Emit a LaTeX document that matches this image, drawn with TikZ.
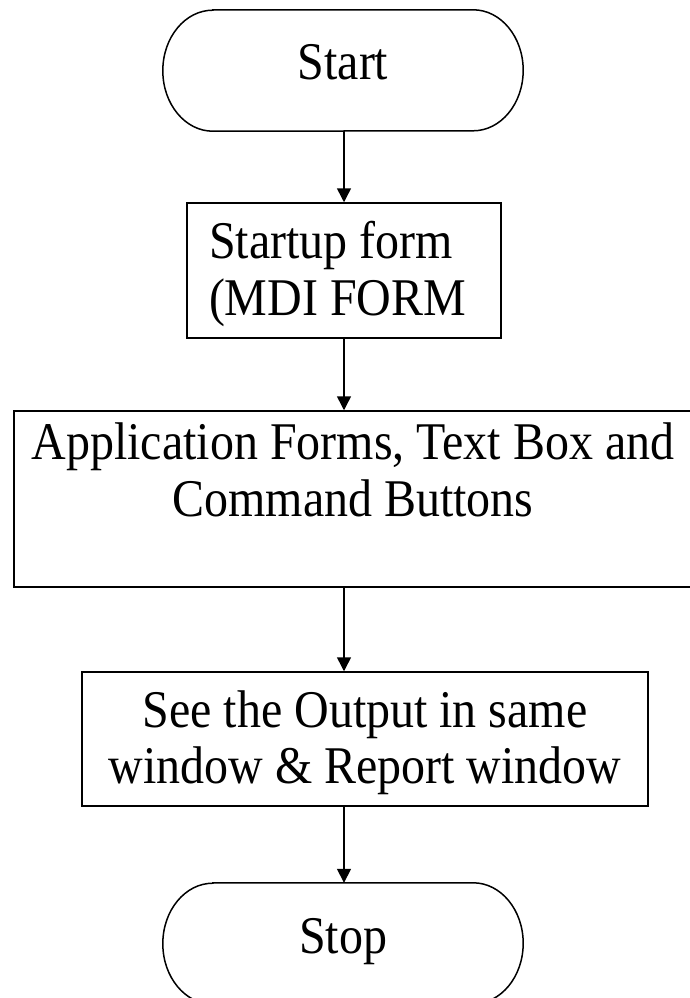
\documentclass[tikz,border=0pt]{standalone}
\usepackage{fontspec}
\setmainfont{Liberation Serif}[FakeStretch=0.905]
\usetikzlibrary{arrows.meta}
\newcommand\boxstrut{\rule[-11pt]{0pt}{55pt}}
\newcommand\termstrut{\rule[-18pt]{0pt}{55pt}}
\begin{document}
\begin{tikzpicture}[x=1pt,y=-1pt,
  every node/.style={font=\fontsize{53}{55}\selectfont, inner sep=0pt},
  procbox/.style={draw, line width=1.5pt, align=center},
  termbox/.style={draw=none, minimum width=360pt, minimum height=121pt},
  arr/.style={line width=1.5pt, -{Triangle[width=14pt,length=14pt]}},
  termline/.style={line width=1.5pt}
]
\useasboundingbox (0,0) rectangle (689,998);
% terminators
\node[termbox] (start) at (343,70.5) {\termstrut Start};
\node[termbox] (stop) at (343,943.5) {\termstrut Stop};
\foreach \n in {start,stop}{
  \draw[termline] ([xshift=50pt]\n.north west) -- ([xshift=-50pt]\n.north east)
    arc[start angle=90, end angle=-90, x radius=50pt, y radius=60.5pt]
    -- ([xshift=50pt]\n.south west)
    arc[start angle=270, end angle=90, x radius=50pt, y radius=60.5pt] -- cycle;
}
% process boxes
\node[procbox, align=flush left, text width=270pt, inner xsep=22pt, minimum height=135pt] (startup) at (344,270.5)
  {\boxstrut Startup form\\\boxstrut (MDI FORM};
\node[procbox, minimum width=678pt, minimum height=176pt] (app) at (353,499)
  {\boxstrut Application Forms, Text Box and\\\boxstrut Command Buttons\\\boxstrut};
\node[procbox, minimum width=566pt, minimum height=134pt] (out) at (365,739)
  {\boxstrut See the Output in same\\\boxstrut window \& Report window};
% connectors
\draw[arr] ([xshift=1pt]start.south) -- (startup.north);
\draw[arr] (startup.south) -- (startup.south |- app.north);
\draw[arr] (startup.south |- app.south) -- (startup.south |- out.north);
\draw[arr] (startup.south |- out.south) -- (startup.south |- stop.north);
\end{tikzpicture}
\end{document}
